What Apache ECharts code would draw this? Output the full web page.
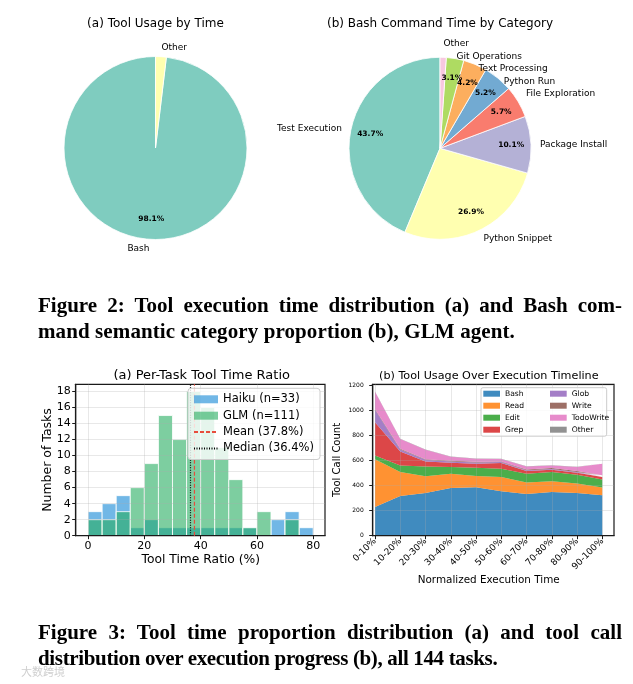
<!DOCTYPE html>
<html>
<head>
<meta charset="utf-8">
<script src="https://cdn.jsdelivr.net/npm/echarts@6/dist/echarts.min.js"></script>
<style>
html,body{margin:0;padding:0;background:#fff;}
#wrap{position:relative;width:633px;height:684px;overflow:hidden;background:#fff}
#chart{position:absolute;left:0;top:0;width:633px;height:684px}
.cap{position:absolute;left:38px;width:584px;font-family:"Liberation Serif",serif;font-weight:bold;font-size:21px;line-height:26px;color:#000;white-space:nowrap}
.j{text-align:justify;text-align-last:justify}
</style>
</head>
<body>
<div id="wrap">
<div id="chart"></div>
<div class="cap j" style="top:292px">Figure 2: Tool execution time distribution (a) and Bash com-</div>
<div class="cap" style="top:318px;letter-spacing:0.1px">mand semantic category proportion (b), GLM agent.</div>
<div class="cap j" style="top:619px">Figure 3: Tool time proportion distribution (a) and tool call</div>
<div class="cap" style="top:645px;letter-spacing:-0.35px">distribution over execution progress (b), all 144 tasks.</div>
</div>
<script>
// ---------- data ----------
// (a) Tool usage by time (percent)
const pieANames = ['Bash', 'Other'];
const pieAValues = [98.1, 1.9];
// (b) Bash command time by category (percent)
const pieBNames = ['Test Execution', 'Python Snippet', 'Package Install', 'File Exploration', 'Python Run', 'Text Processing', 'Git Operations', 'Other'];
const pieBValues = [43.7, 26.9, 10.1, 5.7, 5.2, 4.2, 3.1, 1.1];

// Fig 3 (a) histogram: bins of 5%
const binStarts = [0, 5, 10, 15, 20, 25, 30, 35, 40, 45, 50, 55, 60, 65, 70, 75];
const binWidth = 5;
const haikuCounts = [3, 4, 5, 1, 2, 1, 1, 1, 1, 1, 1, 1, 0, 2, 3, 1];
const glmCounts   = [2, 2, 3, 6, 9, 15, 12, 18, 16, 11, 7, 1, 3, 0, 2, 0];
const meanRatio = 37.8;
const medianRatio = 36.4;
const histXTicks = [0, 20, 40, 60, 80];
const histYTicks = [0, 2, 4, 6, 8, 10, 12, 14, 16, 18];

// Fig 3 (b) tool calls over execution timeline
const phases = ['0-10%', '10-20%', '20-30%', '30-40%', '40-50%', '50-60%', '60-70%', '70-80%', '80-90%', '90-100%'];
const bashCalls      = [228, 317, 341, 380, 386, 354, 333, 349, 341, 322];
const readCalls      = [380, 190, 132, 114, 90, 114, 90, 84, 74, 61];
const editCalls      = [31, 53, 79, 53, 66, 66, 71, 74, 71, 64];
const grepCalls      = [264, 111, 40, 34, 31, 45, 21, 19, 16, 21];
const globCalls      = [101, 15, 12, 10, 10, 8, 6, 6, 6, 6];
const writeCalls     = [5, 6, 4, 6, 6, 5, 7, 7, 7, 7];
const todoWriteCalls = [138, 79, 76, 31, 24, 18, 24, 21, 32, 92];
const otherCalls     = [2, 2, 2, 2, 2, 2, 2, 2, 2, 2];
const timelineYTicks = [0, 200, 400, 600, 800, 1000, 1200];

// ---------- styles ----------
const FONT = 'DejaVu Sans';
const pieAColors = ['#7fccbf', '#ffffb0'];
const pieBColors = ['#7fccbf', '#ffffb0', '#b4b1d6', '#f97c6e', '#72aad2', '#fcae5e', '#aedb62', '#f8c8e0'];
const toolNames = ['Bash', 'Read', 'Edit', 'Grep', 'Glob', 'Write', 'TodoWrite', 'Other'];
const toolData = [bashCalls, readCalls, editCalls, grepCalls, globCalls, writeCalls, todoWriteCalls, otherCalls];
const toolColors = ['#1f77b4', '#ff7f0e', '#2ca02c', '#d62728', '#9467bd', '#8c564b', '#e377c2', '#7f7f7f'];

function rgba(hex, a) {
  const n = parseInt(hex.slice(1), 16);
  return 'rgba(' + ((n >> 16) & 255) + ',' + ((n >> 8) & 255) + ',' + (n & 255) + ',' + a + ')';
}

// vertical de-overlap of outer pie labels (per side), label anchor at 1.1 r on the mid angle
function pieLabelYs(values, cy, r, lineH) {
  const total = values.reduce((a, b) => a + b, 0);
  let cum = 0;
  const items = values.map((v, i) => {
    const a = (90 + (cum + v / 2) / total * 360) * Math.PI / 180;
    cum += v;
    return { i: i, y: cy - 1.1 * r * Math.sin(a), right: Math.cos(a) >= 0 };
  });
  const out = items.map(it => it.y);
  [true, false].forEach(side => {
    const list = items.filter(it => it.right === side).sort((a, b) => a.y - b.y);
    let k = 0;
    while (k < list.length) {
      const pos = [list[k].y];
      let j = k;
      while (j + 1 < list.length && list[j + 1].y < pos[pos.length - 1] + lineH) {
        j++;
        pos.push(pos[pos.length - 1] + lineH);
      }
      let disp = 0;
      for (let m = k; m <= j; m++) disp += pos[m - k] - list[m].y;
      const back = (disp / (j - k + 1)) / 2;
      for (let m = k; m <= j; m++) out[list[m].i] = pos[m - k] - back;
      k = j + 1;
    }
  });
  return out;
}

function pieSeries(center, r, names, values, colors) {
  const data = names.map((n, i) => ({ name: n, value: values[i], itemStyle: { color: colors[i] } }));
  const ys = pieLabelYs(values, center[1], r, 12.5);
  return [
    {
      type: 'pie', center: center, radius: r, startAngle: 90, clockwise: false,
      avoidLabelOverlap: false, silent: true,
      data: data,
      itemStyle: { borderColor: '#fff', borderWidth: 0.8 },
      label: { show: true, position: 'outside', formatter: '{b}', fontFamily: FONT, fontSize: 9, color: '#000',
               distanceToLabelLine: 0, alignTo: 'none' },
      labelLine: { show: false, length: r * 0.1, length2: 0 },
      labelLayout: function (p) { return { y: ys[p.dataIndex], hideOverlap: false }; },
      emphasis: { disabled: true }
    },
    {
      type: 'pie', center: center, radius: [r * 0.5, r], startAngle: 90, clockwise: false,
      avoidLabelOverlap: false, silent: true, z: 3,
      data: names.map((n, i) => ({ name: n, value: values[i] })),
      itemStyle: { color: 'rgba(0,0,0,0)', borderWidth: 0 },
      label: { show: true, position: 'inside', fontFamily: FONT, fontWeight: 'bold', fontSize: 7.5, color: '#000',
               formatter: p => (p.value >= 3 ? p.value.toFixed(1) + '%' : '') },
      labelLine: { show: false },
      labelLayout: { hideOverlap: false },
      emphasis: { disabled: true }
    }
  ];
}

function histSeries(name, counts, color) {
  return {
    type: 'custom', name: name, xAxisIndex: 0, yAxisIndex: 0, clip: true, z: 2,
    itemStyle: { color: color },
    encode: { x: 0, y: 1 },
    data: binStarts.map((b, i) => [b, counts[i]]).filter(d => d[1] > 0),
    renderItem: function (params, api) {
      const x0 = api.value(0), v = api.value(1);
      const p0 = api.coord([x0, 0]);
      const p1 = api.coord([x0 + binWidth, v]);
      return {
        type: 'rect',
        shape: { x: p0[0], y: p1[1], width: p1[0] - p0[0], height: p0[1] - p1[1] },
        style: { fill: color, stroke: 'rgba(255,255,255,0.8)', lineWidth: 1 }
      };
    }
  };
}

const histYMax = 18.9;
const callsYMax = 1206;
const gridLineStyle = { color: 'rgba(170,170,170,0.35)', width: 0.8 };
const axisCol = '#1a1a1a';

const series = [];
series.push(...pieSeries([155.5, 148], 91.5, pieANames, pieAValues, pieAColors));
series.push(...pieSeries([440, 148.3], 91, pieBNames, pieBValues, pieBColors));
series.push(histSeries('Haiku (n=33)', haikuCounts, 'rgba(52,152,219,0.7)'));
series.push(histSeries('GLM (n=111)', glmCounts, 'rgba(39,174,96,0.6)'));
series.push({
  type: 'line', name: 'Mean (' + meanRatio + '%)', xAxisIndex: 0, yAxisIndex: 0, symbol: 'none', z: 3,
  lineStyle: { color: '#e74c3c', width: 1.2, type: [4, 2] }, itemStyle: { color: '#e74c3c' },
  data: [[meanRatio, 0], [meanRatio, histYMax]]
});
series.push({
  type: 'line', name: 'Median (' + medianRatio + '%)', xAxisIndex: 0, yAxisIndex: 0, symbol: 'none', z: 3,
  lineStyle: { color: '#000', width: 1.2, type: [1, 1.5] }, itemStyle: { color: '#000' },
  data: [[medianRatio, 0], [medianRatio, histYMax]]
});
toolNames.forEach((n, k) => {
  series.push({
    type: 'line', name: n, xAxisIndex: 2, yAxisIndex: 2, stack: 'calls', symbol: 'none', z: 2,
    lineStyle: { width: 0, opacity: 0 },
    areaStyle: { color: rgba(toolColors[k], 0.85), opacity: 1 },
    itemStyle: { color: rgba(toolColors[k], 0.85) },
    data: toolData[k]
  });
});

function gtext(text, x, y, size, opts) {
  return Object.assign({
    type: 'text', x: x, y: y, z: 10,
    style: { text: text, font: size + 'px "' + FONT + '"', fill: '#000',
             textAlign: 'center', textVerticalAlign: 'middle', align: 'center', verticalAlign: 'middle' }
  }, opts || {});
}

const noLegendSymbol = { opacity: 0, borderWidth: 0 };

const option = {
  animation: false,
  backgroundColor: '#fff',
  textStyle: { fontFamily: FONT },
  grid: [
    { left: 75.7, top: 384.3, width: 249.3, height: 151.4, show: true, borderColor: axisCol, borderWidth: 1.2, backgroundColor: 'rgba(0,0,0,0)' },
    { left: 372.7, top: 384.3, width: 241.3, height: 151.4, show: true, borderColor: axisCol, borderWidth: 1.2, backgroundColor: 'rgba(0,0,0,0)' },
    { left: 375, top: 384.3, width: 227.3, height: 151.4, show: false }
  ],
  xAxis: [
    {
      gridIndex: 0, type: 'value', min: -4.4, max: 84.2, splitNumber: 5, minInterval: 20, maxInterval: 20, z: 2.5,
      axisLine: { show: true, onZero: false, lineStyle: { color: axisCol, width: 1.2 } },
      axisTick: { show: true, length: 3.5, customValues: histXTicks, lineStyle: { color: axisCol } },
      axisLabel: { customValues: histXTicks, fontSize: 11, color: '#000', margin: 5, fontFamily: FONT },
      splitLine: { show: true, lineStyle: gridLineStyle }
    },
    {
      gridIndex: 1, type: 'value', min: 0, max: 1, z: 2.5,
      axisLine: { show: true, onZero: false, lineStyle: { color: axisCol, width: 1.2 } },
      axisTick: { show: false }, axisLabel: { show: false }, splitLine: { show: false }
    },
    {
      gridIndex: 2, type: 'category', data: phases, boundaryGap: false, z: 2.5,
      axisLine: { show: false, onZero: false },
      axisTick: { show: true, length: 3.5, interval: 0, lineStyle: { color: axisCol } },
      axisLabel: { interval: 0, rotate: 45, fontSize: 9, color: '#000', margin: 4, fontFamily: FONT },
      splitLine: { show: true, interval: 0, lineStyle: gridLineStyle }
    }
  ],
  yAxis: [
    {
      gridIndex: 0, type: 'value', min: 0, max: histYMax, interval: 2, z: 2.5,
      axisLine: { show: true, onZero: false, lineStyle: { color: axisCol, width: 1.2 } },
      axisTick: { show: true, length: 3.5, customValues: histYTicks, lineStyle: { color: axisCol } },
      axisLabel: { customValues: histYTicks, fontSize: 11, color: '#000', margin: 5, fontFamily: FONT },
      splitLine: { show: true, lineStyle: gridLineStyle }
    },
    {
      gridIndex: 1, type: 'value', min: 0, max: callsYMax, interval: 200, z: 2.5,
      axisLine: { show: true, onZero: false, lineStyle: { color: axisCol, width: 1.2 } },
      axisTick: { show: true, length: 3.5, customValues: timelineYTicks, lineStyle: { color: axisCol } },
      axisLabel: { customValues: timelineYTicks, formatter: v => String(v), fontSize: 6, color: '#000', margin: 9, fontFamily: FONT },
      splitLine: { show: true, lineStyle: gridLineStyle }
    },
    {
      gridIndex: 2, type: 'value', min: 0, max: callsYMax, show: false
    }
  ],
  legend: [
    {
      selectedMode: false, orient: 'vertical', left: 188, top: 388.3, z: 5,
      padding: [5, 6, 5, 5], itemWidth: 24, itemHeight: 8, itemGap: 4.4, itemTextGap: 8,
      backgroundColor: 'rgba(255,255,255,0.8)', borderColor: '#cccccc', borderWidth: 1, borderRadius: 3,
      textStyle: { fontFamily: FONT, fontSize: 11.5, color: '#000', lineHeight: 12 },
      data: [
        { name: 'Haiku (n=33)', icon: 'rect' },
        { name: 'GLM (n=111)', icon: 'rect' },
        { name: 'Mean (' + meanRatio + '%)', itemStyle: noLegendSymbol },
        { name: 'Median (' + medianRatio + '%)', itemStyle: noLegendSymbol }
      ]
    },
    {
      selectedMode: false, orient: 'vertical', left: 481, top: 387.7, z: 5,
      padding: [1.5, 82.6, 2, 2.3], itemGap: 3, itemWidth: 16.7, itemHeight: 6, itemTextGap: 7,
      backgroundColor: 'rgba(255,255,255,0.8)', borderColor: '#cccccc', borderWidth: 1, borderRadius: 2,
      textStyle: { fontFamily: FONT, fontSize: 7.6, color: '#000', lineHeight: 9 },
      data: toolNames.slice(0, 4).map(n => ({ name: n, icon: 'rect' }))
    },
    {
      selectedMode: false, orient: 'vertical', left: 550, top: 389.2, z: 6,
      padding: 0, itemGap: 3, itemWidth: 16.7, itemHeight: 6, itemTextGap: 7,
      textStyle: { fontFamily: FONT, fontSize: 7.6, color: '#000', lineHeight: 9 },
      data: toolNames.slice(4).map(n => ({ name: n, icon: 'rect' }))
    }
  ],
  graphic: [
    gtext('(a) Tool Usage by Time', 155.5, 24, 12),
    gtext('(b) Bash Command Time by Category', 440, 24, 12),
    gtext('(a) Per-Task Tool Time Ratio', 201.7, 376, 13),
    gtext('(b) Tool Usage Over Execution Timeline', 488.8, 376, 11.2),
    gtext('Number of Tasks', 48, 460, 12.5, { rotation: Math.PI / 2 }),
    gtext('Tool Time Ratio (%)', 200.8, 560, 12.3),
    gtext('Tool Call Count', 337, 460, 10, { rotation: Math.PI / 2 }),
    gtext('Normalized Execution Time', 488.7, 580, 10.4),
    {
      type: 'text', x: 21, y: 672, z: 10,
      style: { text: '大数跨境', font: '11px "Noto Sans CJK SC"', fill: '#cfcfcf',
               textAlign: 'left', textVerticalAlign: 'middle', align: 'left', verticalAlign: 'middle' }
    }
  ],
  series: series
};

const chart = echarts.init(document.getElementById('chart'), null, { renderer: 'canvas' });
chart.setOption(option);
</script>
</body>
</html>
